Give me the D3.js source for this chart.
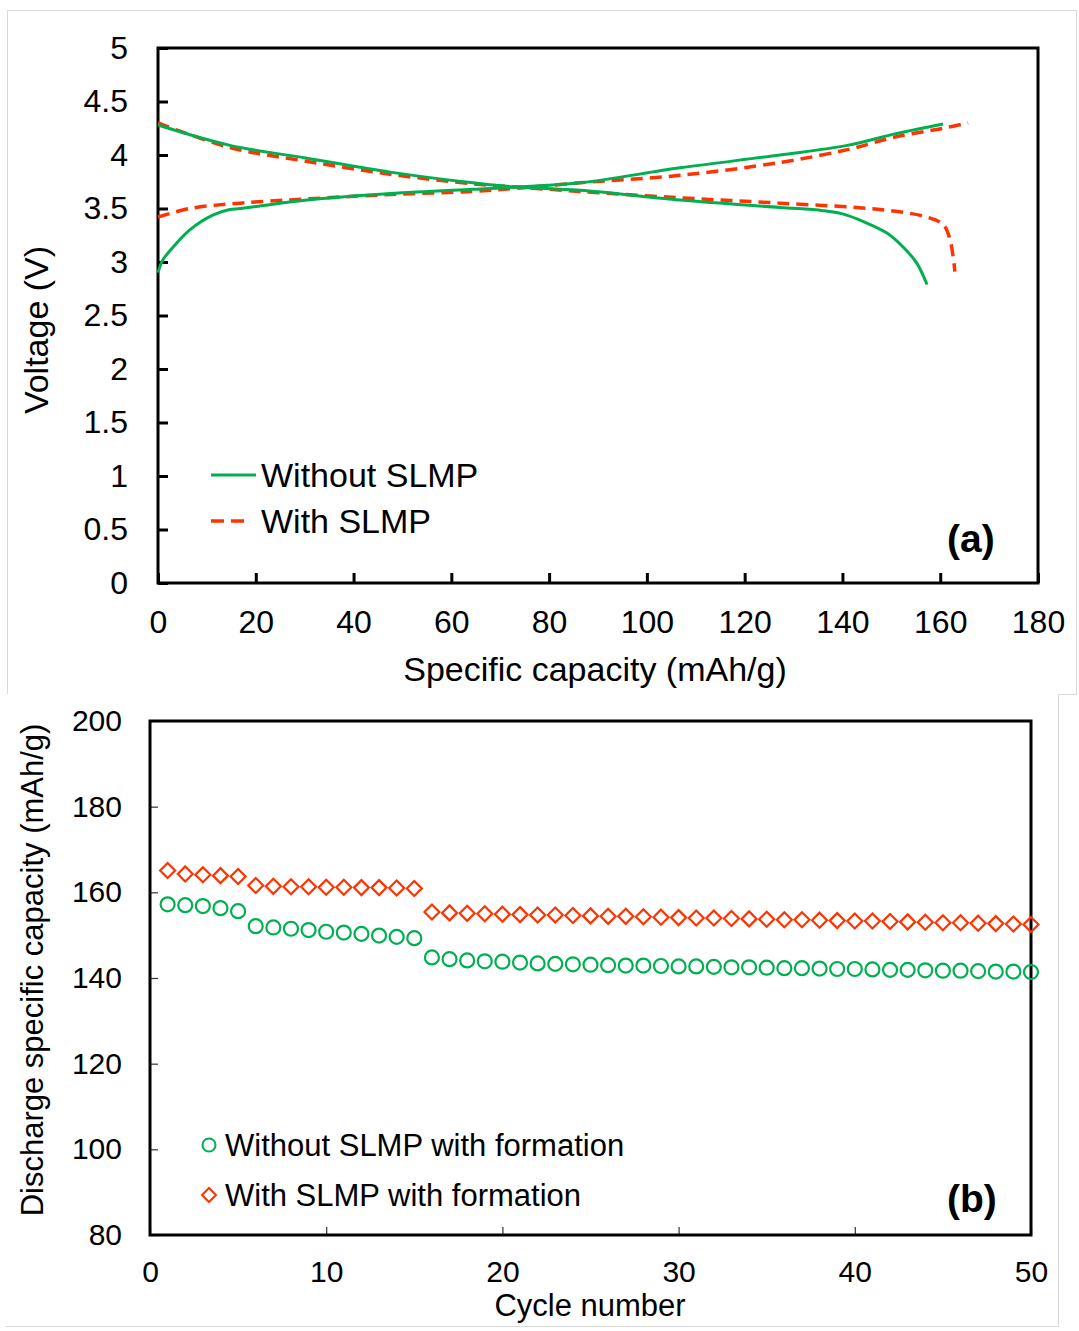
<!DOCTYPE html>
<html>
<head>
<meta charset="utf-8">
<script src="https://cdn.jsdelivr.net/npm/d3@7"></script>
<style>
  html, body { margin: 0; padding: 0; background: #fff; }
  svg { display: block; font-family: "Liberation Sans", Arial, sans-serif; }
</style>
</head>
<body>
<svg id="fig" width="1079" height="1331"></svg>
<script>
// ---- Panel (a): voltage profiles, [capacity mAh/g, voltage V] ----
const chargeWithout = [[0,2.90],[1,3.02],[3.1,3.14],[6.5,3.30],[11.3,3.44],[14.7,3.49],[16.8,3.50],[30.5,3.58],[47.5,3.64],[64.4,3.68],[73.4,3.70],[86.3,3.74],[106.8,3.88],[127.2,4.00],[141,4.09],[151,4.20],[160.6,4.29]];
const dischargeWithout = [[0,4.28],[14.7,4.09],[30.5,3.97],[47.5,3.84],[64.4,3.74],[73.4,3.70],[86.3,3.67],[106.8,3.58],[127.2,3.51],[136,3.48],[140,3.45],[144.2,3.38],[149.1,3.27],[152.4,3.14],[155.2,2.99],[157.3,2.79]];
const chargeWith = [[0,3.42],[6.5,3.50],[16.8,3.55],[30.5,3.59],[47.5,3.63],[64.4,3.66],[73.4,3.69],[86.3,3.74],[106.8,3.81],[127.2,3.93],[141,4.05],[151,4.17],[160.6,4.25],[165.7,4.30]];
const dischargeWith = [[0,4.30],[14.7,4.07],[30.5,3.94],[47.5,3.82],[64.4,3.73],[73.4,3.70],[86.3,3.66],[106.8,3.60],[127.2,3.55],[147.7,3.49],[157.3,3.42],[160.6,3.35],[162,3.21],[163,2.91]];
const capTicks = [0,20,40,60,80,100,120,140,160,180];
const voltTicks = [0,0.5,1,1.5,2,2.5,3,3.5,4,4.5,5];

// ---- Panel (b): discharge capacity per cycle ----
const cycles = d3.range(1, 51);
const capWithout = [157.2,157.0,156.8,156.3,155.6,
  152.1,151.8,151.5,151.2,150.8,150.6,150.3,149.9,149.6,149.3,
  144.8,144.4,144.1,143.9,143.8,143.6,143.4,143.3,143.2,143.1,
  143.0,142.9,142.9,142.8,142.7,142.7,142.6,142.5,142.5,142.4,142.3,142.3,142.2,142.1,142.1,142.0,141.9,141.9,141.8,141.7,141.7,141.6,141.5,141.5,141.4];
const capWith = [165.1,164.3,164.1,163.9,163.7,
  161.6,161.4,161.3,161.3,161.2,161.2,161.1,161.1,161.0,160.9,
  155.4,155.2,155.1,155.0,154.9,154.8,154.7,154.7,154.6,154.5,
  154.4,154.4,154.3,154.2,154.1,154.0,154.0,153.9,153.8,153.7,153.6,153.6,153.5,153.4,153.3,153.3,153.2,153.1,153.0,152.9,152.9,152.8,152.7,152.6,152.5];
const cycleTicks = [0,10,20,30,40,50];
const capacityTicks = [80,100,120,140,160,180,200];

const GREEN = "#00B050", RED = "#FF3300";
const FONT = "Liberation Sans, Arial, sans-serif";
const svg = d3.select("#fig");

// Panel outline (a)
svg.append("rect").attr("x", 7.5).attr("y", 10.5).attr("width", 1069).attr("height", 684)
  .attr("fill", "#fff").attr("stroke", "#d9d9d9").attr("stroke-width", 1);

// ================= Panel (a) =================
const ax = d3.scaleLinear().domain([0, 180]).range([158, 1038]);
const ay = d3.scaleLinear().domain([0, 5]).range([583, 48]);
const ga = svg.append("g");

ga.append("g").attr("transform", "translate(0,583)")
  .call(d3.axisBottom(ax).tickValues(capTicks).tickSizeInner(-10).tickSizeOuter(0).tickPadding(27).tickFormat(d3.format("d")))
  .call(g => g.select(".domain").remove())
  .call(g => g.selectAll("line").attr("stroke", "#000").attr("stroke-width", 3))
  .call(g => g.selectAll("text").attr("font-size", 32).attr("fill", "#000").attr("font-family", FONT));

ga.append("g").attr("transform", "translate(158,0)")
  .call(d3.axisLeft(ay).tickValues(voltTicks).tickSizeInner(-10).tickSizeOuter(0).tickPadding(30).tickFormat(d => String(d)))
  .call(g => g.select(".domain").remove())
  .call(g => g.selectAll("line").attr("stroke", "#000").attr("stroke-width", 3))
  .call(g => g.selectAll("text").attr("font-size", 32).attr("fill", "#000").attr("font-family", FONT));

ga.append("rect").attr("x", ax(0)).attr("y", ay(5)).attr("width", ax(180) - ax(0)).attr("height", ay(0) - ay(5))
  .attr("fill", "none").attr("stroke", "#000").attr("stroke-width", 3);

const lineA = d3.line().x(d => ax(d[0])).y(d => ay(d[1])).curve(d3.curveCatmullRom.alpha(0.5));
[[chargeWith, RED, "12,7"], [dischargeWith, RED, "12,7"], [chargeWithout, GREEN, null], [dischargeWithout, GREEN, null]]
  .forEach(([data, color, dash]) => {
    ga.append("path").datum(data).attr("d", lineA).attr("fill", "none")
      .attr("stroke", color).attr("stroke-width", dash ? 3.5 : 3)
      .attr("stroke-dasharray", dash);
  });

ga.append("text").attr("x", 595).attr("y", 681).attr("text-anchor", "middle")
  .attr("font-size", 34).text("Specific capacity (mAh/g)");
ga.append("text").attr("transform", "translate(48,330) rotate(-90)").attr("text-anchor", "middle")
  .attr("font-size", 34).text("Voltage (V)");

// legend (a)
ga.append("line").attr("x1", 211).attr("x2", 256).attr("y1", 475).attr("y2", 475).attr("stroke", GREEN).attr("stroke-width", 3);
ga.append("text").attr("x", 261).attr("y", 487).attr("font-size", 34).text("Without SLMP");
ga.append("line").attr("x1", 211).attr("x2", 250).attr("y1", 521).attr("y2", 521).attr("stroke", RED).attr("stroke-width", 3.5).attr("stroke-dasharray", "13,7");
ga.append("text").attr("x", 261).attr("y", 533).attr("font-size", 34).text("With SLMP");
ga.append("text").attr("x", 947).attr("y", 552).attr("font-size", 39).attr("font-weight", "bold").text("(a)");

// ================= Panel (b) =================
svg.append("rect").attr("x", 6).attr("y", 694).attr("width", 1052).attr("height", 632).attr("fill", "#fff");
svg.append("path").attr("d", "M1058.5,694V1326.5H6").attr("fill", "none").attr("stroke", "#d9d9d9").attr("stroke-width", 1);

const bx = d3.scaleLinear().domain([0, 50]).range([150, 1031]);
const by = d3.scaleLinear().domain([80, 200]).range([1235, 721]);
const gb = svg.append("g");

gb.append("g").attr("transform", "translate(0,1235)")
  .call(d3.axisBottom(bx).tickValues(cycleTicks).tickSizeInner(-8).tickSizeOuter(0).tickPadding(26).tickFormat(d3.format("d")))
  .call(g => g.select(".domain").remove())
  .call(g => g.selectAll("line").attr("stroke", "#333").attr("stroke-width", 1.2))
  .call(g => g.selectAll("text").attr("font-size", 30).attr("fill", "#000").attr("font-family", FONT));

gb.append("g").attr("transform", "translate(150,0)")
  .call(d3.axisLeft(by).tickValues(capacityTicks).tickSizeInner(-8).tickSizeOuter(0).tickPadding(28).tickFormat(d3.format("d")))
  .call(g => g.select(".domain").remove())
  .call(g => g.selectAll("line").attr("stroke", "#333").attr("stroke-width", 1.2))
  .call(g => g.selectAll("text").attr("font-size", 30).attr("fill", "#000").attr("font-family", FONT));

gb.append("rect").attr("x", bx(0)).attr("y", by(200)).attr("width", bx(50) - bx(0)).attr("height", by(80) - by(200))
  .attr("fill", "none").attr("stroke", "#000").attr("stroke-width", 3);

const diamond = (r) => `M0,${-r}L${r},0L0,${r}L${-r},0Z`;

gb.append("g").selectAll("path").data(cycles).join("path")
  .attr("transform", (c, i) => `translate(${bx(c)},${by(capWith[i])})`)
  .attr("d", diamond(7.5)).attr("fill", "none").attr("stroke", RED).attr("stroke-width", 2.2);

gb.append("g").selectAll("circle").data(cycles).join("circle")
  .attr("cx", c => bx(c)).attr("cy", (c, i) => by(capWithout[i])).attr("r", 7)
  .attr("fill", "none").attr("stroke", GREEN).attr("stroke-width", 2.2);

gb.append("text").attr("x", 590).attr("y", 1316).attr("text-anchor", "middle")
  .attr("font-size", 31).text("Cycle number");
gb.append("text").attr("transform", "translate(43,970) rotate(-90)").attr("text-anchor", "middle")
  .attr("font-size", 31).text("Discharge specific capacity (mAh/g)");

// legend (b)
gb.append("circle").attr("cx", 209).attr("cy", 1145).attr("r", 6.5).attr("fill", "none").attr("stroke", GREEN).attr("stroke-width", 2);
gb.append("text").attr("x", 225).attr("y", 1155.5).attr("font-size", 31).text("Without SLMP with formation");
gb.append("path").attr("transform", "translate(209,1195)").attr("d", diamond(7)).attr("fill", "none").attr("stroke", RED).attr("stroke-width", 2);
gb.append("text").attr("x", 225).attr("y", 1205.5).attr("font-size", 31).text("With SLMP with formation");
gb.append("text").attr("x", 947).attr("y", 1212).attr("font-size", 39).attr("font-weight", "bold").text("(b)");
</script>
</body>
</html>
